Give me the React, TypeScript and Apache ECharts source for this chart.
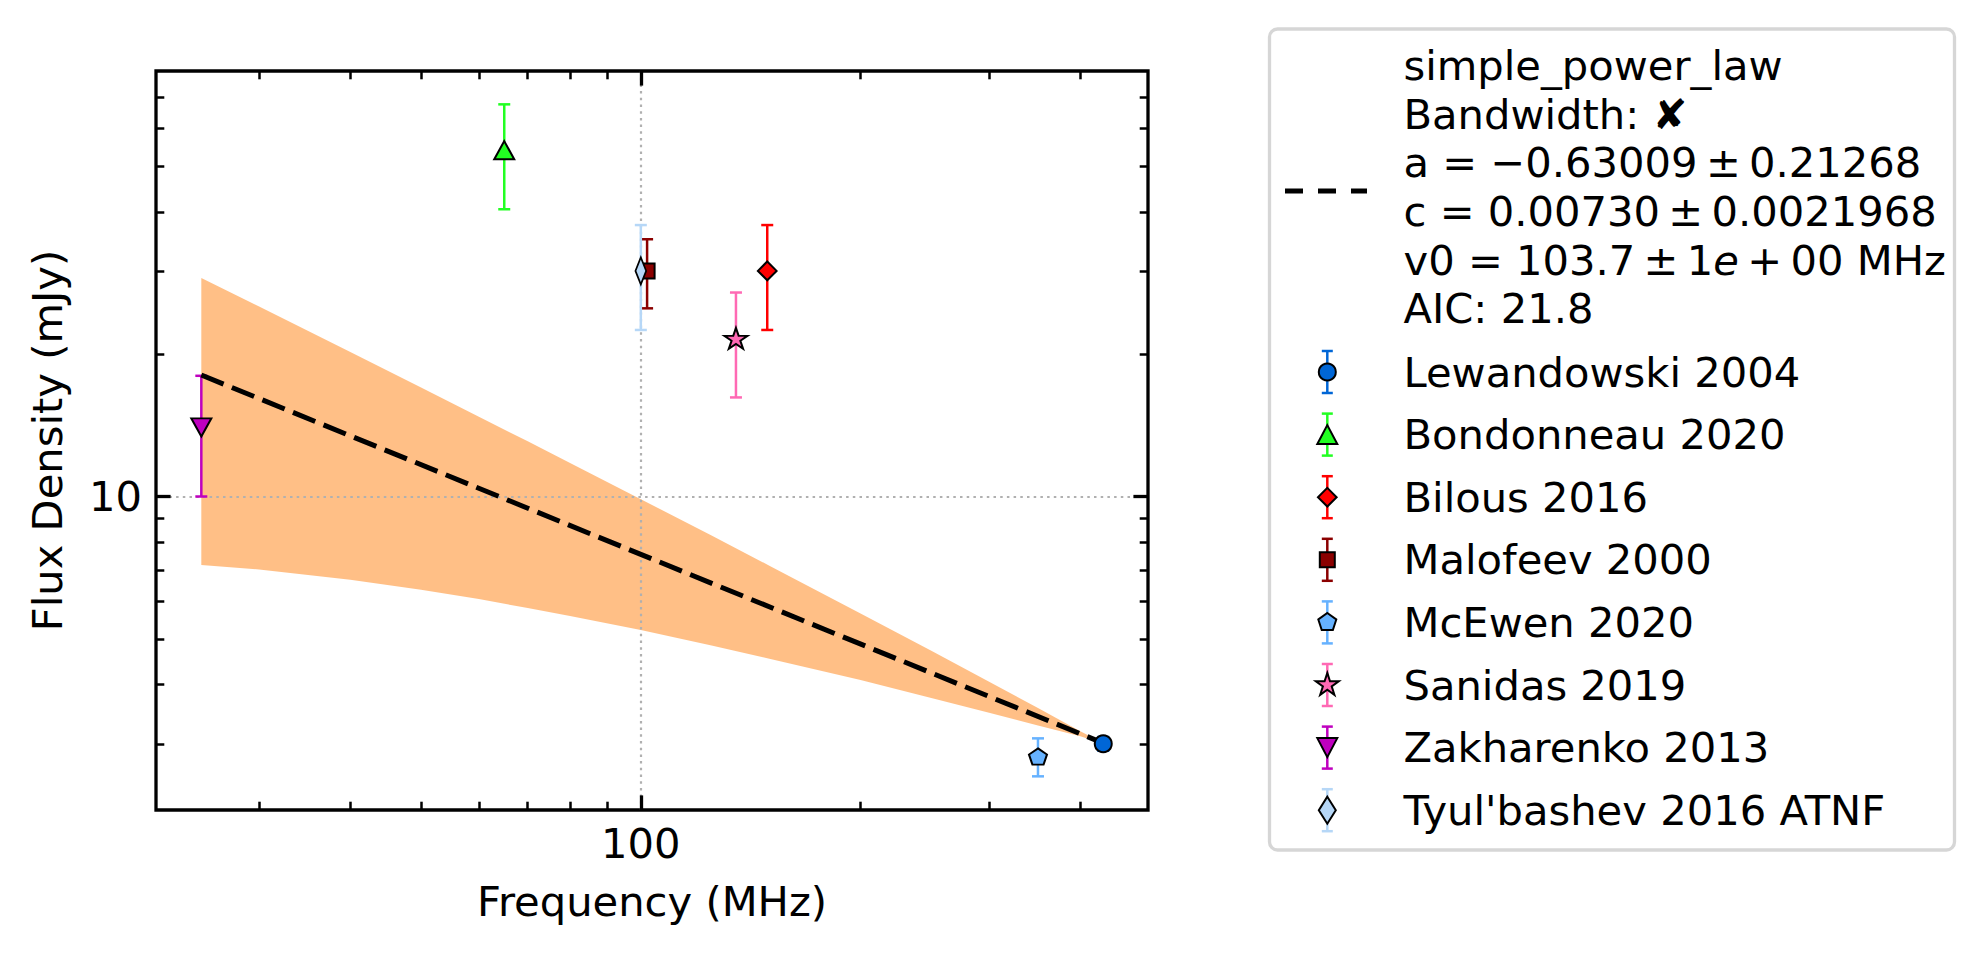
import React, { useEffect, useRef } from "react";
import * as echarts from "echarts";

const FONT = "DejaVu Sans";
const FS = 41.67;

// Axis ranges: frequency (MHz) and flux density (mJy)
const X_MIN = 21.67;
const X_MAX = 495.2;
const Y_MIN = 2.173;
const Y_MAX = 79.4;

const xMajorTicks = [100];
const xMinorTicks = [30, 40, 50, 60, 70, 80, 90, 200, 300, 400];
const yMajorTicks = [10];
const yMinorTicks = [3, 4, 5, 6, 7, 8, 9, 20, 30, 40, 50, 60, 70];

// Published flux density measurements
const sourceNames = [
  "Lewandowski 2004",
  "Bondonneau 2020",
  "Bilous 2016",
  "Malofeev 2000",
  "McEwen 2020",
  "Sanidas 2019",
  "Zakharenko 2013",
  "Tyul'bashev 2016 ATNF",
];
const sourceFreqs = [430, 65, 149, 102, 350, 135, 25, 100];
const sourceFluxes = [3.0, 54, 30, 30, 2.82, 21.6, 14, 30];
const sourceErrors = [0.1, 13.5, 7.5, 5, 0.26, 5.4, 4, 7.5];

// Fitted simple power law (straight in log-log space)
const fitFreqs = [25, 430];
const fitFluxes = [18.07, 3.01];

// Fit uncertainty envelope
const bandFreqs = [25, 30, 40, 50, 60, 70, 80, 100, 125, 150, 200, 250, 300, 350, 400, 430];
const bandUpper = [28.98, 25.21, 20.2, 17.0, 14.75, 13.08, 11.77, 9.87, 8.27, 7.14, 5.66, 4.72, 4.06, 3.57, 3.19, 3.01];
const bandLower = [7.16, 7.01, 6.67, 6.35, 6.07, 5.81, 5.59, 5.22, 4.84, 4.54, 4.09, 3.75, 3.49, 3.28, 3.11, 3.0];

const fitLegendLines = [
  "simple_power_law",
  "Bandwidth: \u2718",
  "a = \u22120.63009\u2009\u00b1\u20090.21268",
  "c = 0.00730\u2009\u00b1\u20090.0021968",
  "v0 = 103.7\u2009\u00b1\u20091{it|e}\u2009+\u200900 MHz",
  "AIC: 21.8",
];

const sourceColors = ["#0066d6", "#22ff22", "#ff0000", "#8b0000", "#66b2ff", "#ff69b4", "#bf00bf", "#b6d7f7"];

// ---- marker geometry (pixel offsets around the marker centre) ----
function starLike(count: number, R: number, innerRatio: number): number[][] {
  const pts: number[][] = [];
  const n = innerRatio > 0 ? count * 2 : count;
  for (let k = 0; k < n; k++) {
    const ang = -Math.PI / 2 + (k * 2 * Math.PI) / n;
    const r = innerRatio > 0 && k % 2 === 1 ? R * innerRatio : R;
    pts.push([r * Math.cos(ang), r * Math.sin(ang)]);
  }
  return pts;
}

const markerShapes: (number[][] | null)[] = [
  null, // circle
  [[0, -9.5], [10, 9.5], [-10, 9.5]],
  [[0, -9.35], [9.35, 0], [0, 9.35], [-9.35, 0]],
  [[-7.5, -7.5], [7.5, -7.5], [7.5, 7.5], [-7.5, 7.5]],
  starLike(5, 9.46, 0),
  starLike(5, 12.09, 0.381966),
  [[0, 9.5], [10, -9.5], [-10, -9.5]],
  [[0, -13.5], [8.5, 0], [0, 13.5], [-8.5, 0]],
];
const CIRCLE_R = 8.5;

function shapePath(pts: number[][]): string {
  return (
    "path://" +
    pts.map((p, i) => (i ? "L" : "M") + p[0].toFixed(3) + " " + p[1].toFixed(3)).join(" ") +
    " Z"
  );
}
function shapeBox(pts: number[][]): number[] {
  const xs = pts.map((p) => p[0]);
  const ys = pts.map((p) => p[1]);
  return [Math.max(...xs) - Math.min(...xs), Math.max(...ys) - Math.min(...ys)];
}

const textStyle = { color: "#000", fontSize: FS, fontFamily: FONT };
const gridLine = { show: true, lineStyle: { color: "#b0b0b0", width: 2.2, type: [2.5, 4.2] } };

function logAxis(
  kind: "x" | "y",
  gridIndex: number,
  position: string,
  ticks: number[],
  tickLen: number,
  tickWidth: number,
  withLabel: boolean,
  withSplit: boolean,
  extra: any = {}
) {
  return {
    type: "log",
    logBase: 10,
    min: kind === "x" ? X_MIN : Y_MIN,
    max: kind === "x" ? X_MAX : Y_MAX,
    gridIndex,
    position,
    axisLine: { show: false },
    axisTick: {
      show: true,
      inside: true,
      length: tickLen,
      customValues: ticks,
      lineStyle: { color: "#000", width: tickWidth },
    },
    minorTick: { show: false },
    minorSplitLine: { show: false },
    axisLabel: withLabel
      ? { show: true, customValues: ticks, margin: kind === "x" ? 12 : 14, ...textStyle }
      : { show: false },
    splitLine: withSplit ? gridLine : { show: false },
    axisPointer: { show: false },
    ...extra,
  };
}

function buildLegend(): any[] {
  const els: any[] = [];
  els.push({
    type: "rect",
    shape: { x: 1269.5, y: 29, width: 685, height: 821, r: 8 },
    style: { fill: "rgba(255,255,255,0.8)", stroke: "#d6d6d6", lineWidth: 3.3 },
  });
  els.push({
    type: "line",
    shape: { x1: 1285, y1: 191, x2: 1367, y2: 191 },
    style: { stroke: "#000", lineWidth: 5.2, lineDash: [18, 15] },
  });
  fitLegendLines.forEach((t, i) => {
    els.push({
      type: "text",
      x: 1403.5,
      y: 65.6 + i * 48.66,
      style: {
        text: t,
        fill: "#000",
        fontSize: FS,
        fontFamily: FONT,
        align: "left",
        verticalAlign: "middle",
        textAlign: "left",
        textVerticalAlign: "middle",
        rich: {
          it: { fontStyle: "italic", fontSize: FS, fontFamily: FONT, fill: "#000" },
        },
      },
    });
  });
  const cx = 1327.3;
  sourceNames.forEach((name, i) => {
    const cy = 372 + i * 62.6;
    const c = sourceColors[i];
    const bar = { stroke: c, lineWidth: 2.5 };
    els.push({ type: "line", shape: { x1: cx, y1: cy - 21, x2: cx, y2: cy + 21 }, style: bar });
    els.push({ type: "line", shape: { x1: cx - 5.5, y1: cy - 21, x2: cx + 5.5, y2: cy - 21 }, style: bar });
    els.push({ type: "line", shape: { x1: cx - 5.5, y1: cy + 21, x2: cx + 5.5, y2: cy + 21 }, style: bar });
    const shape = markerShapes[i];
    const mStyle = { fill: c, stroke: "#000", lineWidth: 2 };
    if (shape) {
      els.push({
        type: "polygon",
        shape: { points: shape.map((p) => [cx + p[0], cy + p[1]]) },
        style: mStyle,
      });
    } else {
      els.push({ type: "circle", shape: { cx, cy, r: CIRCLE_R }, style: mStyle });
    }
    els.push({
      type: "text",
      x: 1403.5,
      y: cy,
      style: {
        text: name,
        fill: "#000",
        fontSize: FS,
        fontFamily: FONT,
        align: "left",
        verticalAlign: "middle",
        textAlign: "left",
        textVerticalAlign: "middle",
      },
    });
  });
  return els;
}

function buildOption(): any {
  const gridRect = { left: 156, top: 71, width: 992, height: 739 };

  const series: any[] = [];

  // uncertainty envelope, drawn below the grid lines
  series.push({
    type: "custom",
    xAxisIndex: 0,
    yAxisIndex: 0,
    z: -1,
    silent: true,
    data: [[bandFreqs[0], bandUpper[0]]],
    encode: { x: 0, y: 1 },
    renderItem: (_params: any, api: any) => {
      const pts: number[][] = [];
      for (let i = 0; i < bandFreqs.length; i++) pts.push(api.coord([bandFreqs[i], bandUpper[i]]));
      for (let i = bandFreqs.length - 1; i >= 0; i--) pts.push(api.coord([bandFreqs[i], bandLower[i]]));
      return { type: "polygon", shape: { points: pts }, style: { fill: "rgba(255,127,14,0.5)" } };
    },
  });

  // fitted power law
  series.push({
    type: "line",
    xAxisIndex: 0,
    yAxisIndex: 0,
    z: 2,
    silent: true,
    symbol: "none",
    data: fitFreqs.map((f, i) => [f, fitFluxes[i]]),
    lineStyle: { color: "#000", width: 5, type: [24, 9], cap: "butt" },
  });

  // error bars
  sourceNames.forEach((name, i) => {
    const color = sourceColors[i];
    series.push({
      type: "custom",
      name: name + " err",
      xAxisIndex: 0,
      yAxisIndex: 0,
      z: 2,
      silent: true,
      data: [[sourceFreqs[i], sourceFluxes[i], sourceErrors[i]]],
      encode: { x: 0, y: 1 },
      renderItem: (_params: any, api: any) => {
        const x = api.value(0);
        const v = api.value(1);
        const e = api.value(2);
        const top = api.coord([x, v + e]);
        const bot = api.coord([x, v - e]);
        const hw = 6;
        const st = { stroke: color, lineWidth: 2.5 };
        return {
          type: "group",
          children: [
            { type: "line", shape: { x1: top[0], y1: top[1], x2: bot[0], y2: bot[1] }, style: st },
            { type: "line", shape: { x1: top[0] - hw, y1: top[1], x2: top[0] + hw, y2: top[1] }, style: st },
            { type: "line", shape: { x1: bot[0] - hw, y1: bot[1], x2: bot[0] + hw, y2: bot[1] }, style: st },
          ],
        };
      },
    });
  });

  // markers
  sourceNames.forEach((name, i) => {
    const shape = markerShapes[i];
    series.push({
      type: "scatter",
      name,
      xAxisIndex: 0,
      yAxisIndex: 0,
      z: 3,
      silent: true,
      data: [[sourceFreqs[i], sourceFluxes[i]]],
      symbol: shape ? shapePath(shape) : "circle",
      symbolSize: shape ? shapeBox(shape) : CIRCLE_R * 2,
      symbolKeepAspect: true,
      itemStyle: { color: sourceColors[i], borderColor: "#000", borderWidth: 2, opacity: 1 },
      emphasis: { disabled: true },
    });
  });

  // placeholder so the minor-tick grid has a series
  series.push({ type: "scatter", xAxisIndex: 2, yAxisIndex: 2, data: [], silent: true });

  return {
    animation: false,
    backgroundColor: "#ffffff",
    tooltip: { show: false },
    grid: [
      {
        ...gridRect,
        show: true,
        backgroundColor: "rgba(0,0,0,0)",
        borderColor: "#000",
        borderWidth: 3.3,
        containLabel: false,
        outerBoundsMode: "none",
      },
      { ...gridRect, show: false, containLabel: false, outerBoundsMode: "none" },
    ],
    xAxis: [
      logAxis("x", 0, "bottom", xMajorTicks, 14.6, 3.3, true, true, {
        name: "Frequency (MHz)",
        nameLocation: "middle",
        nameGap: 70,
        nameTextStyle: textStyle,
      }),
      logAxis("x", 0, "top", xMajorTicks, 14.6, 3.3, false, false),
      logAxis("x", 1, "bottom", xMinorTicks, 8.3, 2.5, false, false),
      logAxis("x", 1, "top", xMinorTicks, 8.3, 2.5, false, false),
    ],
    yAxis: [
      logAxis("y", 0, "left", yMajorTicks, 14.6, 3.3, true, true, {
        name: "Flux Density (mJy)",
        nameLocation: "middle",
        nameGap: 88,
        nameRotate: 90,
        nameTextStyle: textStyle,
      }),
      logAxis("y", 0, "right", yMajorTicks, 14.6, 3.3, false, false),
      logAxis("y", 1, "left", yMinorTicks, 8.3, 2.5, false, false),
      logAxis("y", 1, "right", yMinorTicks, 8.3, 2.5, false, false),
    ],
    series,
    graphic: { elements: buildLegend() },
  };
}

export default function App() {
  const ref = useRef<HTMLDivElement>(null);
  useEffect(() => {
    if (!ref.current) return;
    const prevMargin = document.body.style.margin;
    document.body.style.margin = "0";
    const chart = echarts.init(ref.current, null, { renderer: "svg", width: 1986, height: 955 });
    chart.setOption(buildOption());
    return () => {
      chart.dispose();
      document.body.style.margin = prevMargin;
    };
  }, []);
  return <div ref={ref} style={{ width: 1986, height: 955, background: "#fff" }} />;
}
